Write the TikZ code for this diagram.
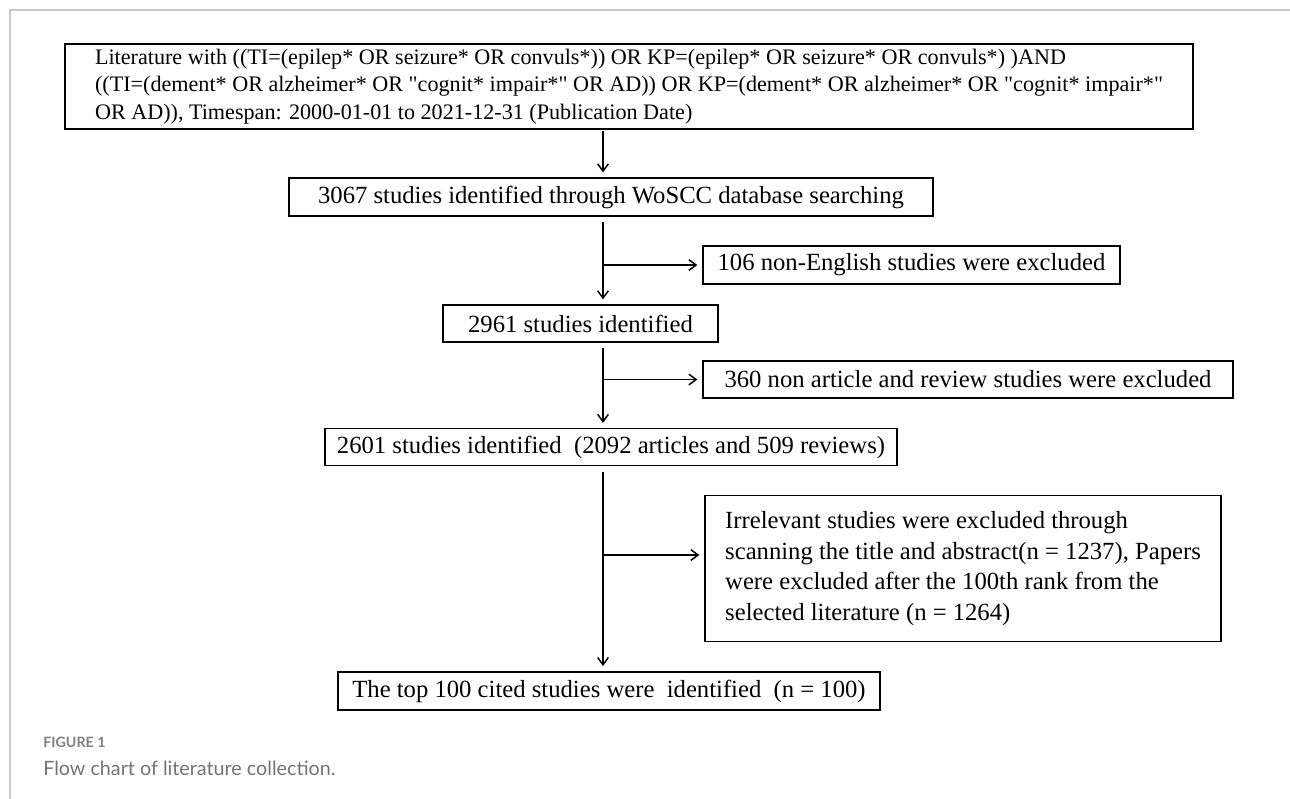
\documentclass[tikz,border=0pt]{standalone}
\usepackage{fontspec}
\setmainfont{Liberation Serif}
\newfontfamily\capfont{Lato}
\newcommand{\dquote}{\XeTeXglyph\XeTeXcharglyph"22\relax}
\usetikzlibrary{arrows.meta,calc}

\begin{document}
\begin{tikzpicture}[x=0.75pt, y=-0.75pt,
    box/.style={draw, line width=1.4pt, inner sep=0pt, font=\fontsize{18.5}{23}\selectfont},
    arr/.style={line width=1.1pt, -{Straight Barb[length=5.5pt,width=8pt]}, shorten >=3.5pt},
    frame/.style={draw=black!22, line width=0.9pt},
    captext/.style={anchor=west, inner sep=0pt}]

    \useasboundingbox (0,0) rectangle (1290,799);
    \draw[frame] (10,799) -- (10,10) -- (1290,10);
    \coordinate (spine) at (603,0);
    \coordinate (fork3) at (603,555);

    \node[box, minimum width=846pt, minimum height=64pt, align=left, font=\fontsize{16.6}{20.5}\selectfont] (query) at (629,86.5) {Literature with ((TI=(epilep* OR seizure* OR convuls*)) OR KP=(epilep* OR seizure* OR convuls*) )AND\\ ((TI=(dement* OR alzheimer* OR \dquote cognit* impair*\dquote{} OR AD)) OR KP=(dement* OR alzheimer* OR \dquote cognit* impair*\dquote\\ OR AD)), Timespan: 2000-01-01 to 2021-12-31 (Publication Date)};
    \node[box, minimum width=483pt, minimum height=28.5pt] (found) at (611,197) {3067 studies identified through WoSCC database searching};
    \node[box, minimum width=312.75pt, minimum height=28.5pt] (nonen) at (911.5,265) {106 non-English studies were excluded};
    \node[box, minimum width=206.25pt, minimum height=27.75pt] (english) at (580.5,323.5) {2961 studies identified};
    \node[box, minimum width=397.5pt, minimum height=27.75pt] (nonart) at (968,379.5) {360 non article and review studies were excluded};
    \node[box, minimum width=429pt, minimum height=27.75pt] (artrev) at (611,447) {2601 studies identified\ \ (2092 articles and 509 reviews)};
    \node[box, minimum width=387pt, minimum height=109.5pt, align=left] (irrel) at (963,568.5) {Irrelevant studies were excluded through\\ scanning the title and abstract(n = 1237), Papers\\ were excluded after the 100th rank from the\\ selected literature (n = 1264)};
    \node[box, minimum width=406.5pt, minimum height=29pt] (top) at (609,691) {The top 100 cited studies were\ \ identified\ \ (n = 100)};

    \draw[arr, shorten <=1pt] (query.south -| spine) -- (found.north -| spine);
    \draw[arr, shorten <=4pt] (found.south -| spine) -- (english.north -| spine);
    \draw[arr, shorten <=4pt] (english.south -| spine) -- (artrev.north -| spine);
    \draw[arr, shorten <=4pt] (artrev.south -| spine) -- (top.north -| spine);
    \draw[arr] (nonen.west -| spine) -- (nonen.west);
    \draw[arr] (nonart.west -| spine) -- (nonart.west);
    \draw[arr] (fork3) -- (fork3 -| irrel.west);

    \node[captext, text=black!50, font=\capfont\bfseries\fontsize{10.7}{13}\selectfont] (figlabel) at (43,742) {FIGURE 1};
    \node[captext, text=black!55, font=\capfont\fontsize{14.8}{18}\selectfont] (figcaption) at (43,768) {Flow chart of literature collection.};
\end{tikzpicture}
\end{document}
